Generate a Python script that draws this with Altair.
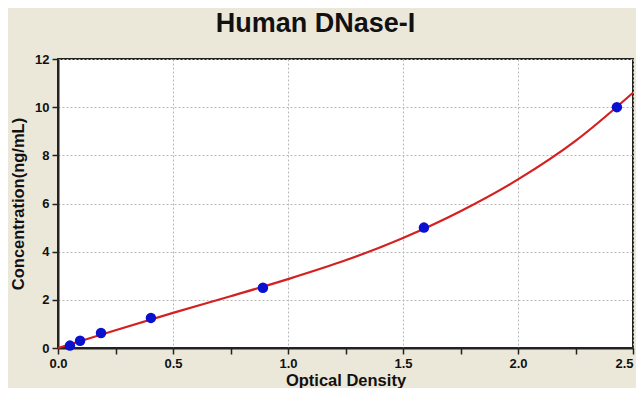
import altair as alt
import pandas as pd

# Standard points (optical density, concentration)
od = [0.052, 0.096, 0.187, 0.404, 0.891, 1.591, 2.430]
conc = [0.1, 0.3, 0.625, 1.25, 2.5, 5.0, 10.0]

# Fitted curve
curve_x = [0.0, 0.25, 0.5, 0.75, 1.0, 1.25, 1.5, 1.75, 2.0, 2.25, 2.5]
curve_y = [0.0, 0.74, 1.46, 2.15, 2.86, 3.64, 4.57, 5.68, 7.0, 8.6, 10.6]

x_ticks = [0, 0.25, 0.5, 0.75, 1.0, 1.25, 1.5, 1.75, 2.0, 2.25, 2.5]
y_ticks = list(range(0, 13))

pts = pd.DataFrame({"od": od, "conc": conc})
cur = pd.DataFrame({"od": curve_x, "conc": curve_y})

font = "Liberation Sans"

xscale = alt.Scale(domain=[0, 2.5], nice=False, zero=True)
yscale = alt.Scale(domain=[0, 12], nice=False)

xaxis = alt.Axis(
    values=x_ticks,
    title="Optical Density",
    labelExpr="abs(datum.value*2 - round(datum.value*2)) < 0.001 ? format(datum.value, '.1f') : ''",
    gridOpacity=alt.ExprRef(expr="abs(datum.value*2 - round(datum.value*2)) < 0.001 && datum.value > 0 ? 1 : 0"),
    labelAlign=alt.ExprRef(expr="datum.value > 2.4 ? 'right' : 'center'"),
    grid=True,
    tickSize=6,
    labelPadding=3,
    titlePadding=2,
)
yaxis = alt.Axis(
    values=y_ticks,
    title="Concentration(ng/mL)",
    labelExpr="datum.value % 2 == 0 ? format(datum.value, 'd') : ''",
    gridOpacity=alt.ExprRef(expr="datum.value % 2 == 0 ? 1 : 0"),
    grid=True,
    tickSize=6,
    labelPadding=3,
    titlePadding=8,
)

line = alt.Chart(cur).mark_line(color="#d42020", strokeWidth=2.2, interpolate="monotone").encode(
    x=alt.X("od:Q", scale=xscale, axis=xaxis),
    y=alt.Y("conc:Q", scale=yscale, axis=yaxis),
)

dots = alt.Chart(pts).mark_circle(color="#0a10d0", size=110, opacity=1).encode(
    x=alt.X("od:Q", scale=xscale),
    y=alt.Y("conc:Q", scale=yscale),
)

chart = (
    alt.layer(line, dots)
    .properties(
        width=575,
        height=289,
        title=alt.TitleParams(
            "Human DNase-I", fontSize=27, font=font, fontWeight="bold", color="#111",
            anchor="middle", dx=-30, offset=15,
        ),
        background="#ebe8da",
        padding={"left": 50, "top": 51, "right": 3, "bottom": 40},
        autosize=alt.AutoSizeParams(type="none"),
    )
    .configure_view(fill="white", stroke="#222", strokeWidth=2)
    .configure_axis(
        labelFont=font, labelFontSize=13, labelFontWeight="bold", labelColor="#111",
        titleFont=font, titleFontSize=16.5, titleFontWeight="bold", titleColor="#111",
        domainColor="#222", domainWidth=2, tickColor="#222", tickWidth=1.5,
        gridColor="#b8b8b8", gridDash=[2, 2], gridWidth=1,
    )
)

chart.save("out.html", embed_options={"renderer": "svg", "actions": False})
